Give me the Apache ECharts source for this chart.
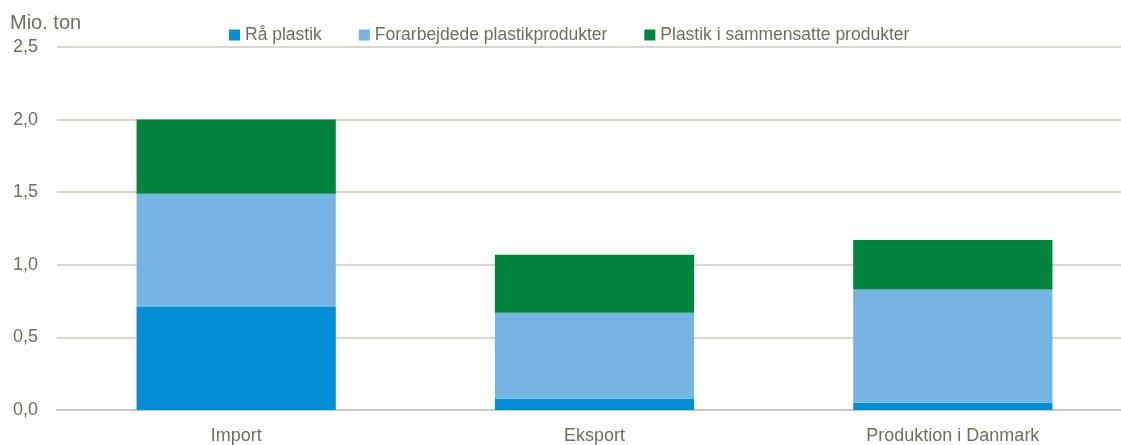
<!DOCTYPE html>
<html>
<head>
<meta charset="utf-8">
<script src="https://cdn.jsdelivr.net/npm/echarts@6/dist/echarts.min.js"></script>
<style>
  html, body { margin: 0; padding: 0; background: #fff; overflow: hidden; }
  #chart { width: 1132px; height: 445px; }
</style>
</head>
<body>
<div id="chart"></div>
<script>
// data
var categories = ['Import', 'Eksport', 'Produktion i Danmark'];
var raaPlastik = [0.71, 0.08, 0.05];
var forarbejdede = [0.78, 0.59, 0.78];
var sammensatte = [0.51, 0.40, 0.34];
var yTicks = [0, 0.5, 1.0, 1.5, 2.0, 2.5];

var textColor = '#6e6e60';
var fontFam = '"Liberation Sans Narrow", "Arial Narrow", "Liberation Sans", sans-serif';

// chart is a little wider than the window, so the plot runs off the right edge
var chart = echarts.init(document.getElementById('chart'));

var option = {
  animation: false,
  textStyle: { fontFamily: fontFam, color: textColor },
  title: {
    text: 'Mio. ton',
    left: 5,
    top: 8,
    textStyle: { fontFamily: fontFam, fontSize: 20, fontWeight: 'normal', color: textColor }
  },
  legend: {
    top: 21,
    left: 224,
    itemWidth: 11,
    itemHeight: 11,
    itemGap: 37,
    icon: 'rect',
    textStyle: { fontFamily: fontFam, fontSize: 17.5, color: textColor },
    data: ['Rå plastik', 'Forarbejdede plastikprodukter', 'Plastik i sammensatte produkter']
  },
  grid: { left: 57, right: 0, top: 47, bottom: 31, containLabel: false },
  xAxis: {
    type: 'category',
    data: categories,
    axisLine: { lineStyle: { color: '#c8c8bc', width: 2 } },
    axisTick: { show: false },
    axisLabel: { fontFamily: fontFam, fontSize: 18, color: textColor, margin: 17 }
  },
  yAxis: {
    type: 'value',
    min: 0,
    max: 2.5,
    interval: 0.5,
    axisLine: { show: false },
    axisTick: { show: false },
    splitLine: { lineStyle: { color: '#c8c8bc', width: 1.5 } },
    axisLabel: {
      fontFamily: fontFam, fontSize: 18, color: textColor, margin: 19,
      formatter: function (v) {
        return yTicks.indexOf(v) >= 0 ? v.toFixed(1).replace('.', ',') : '';
      }
    }
  },
  series: [
    {
      name: 'Rå plastik',
      type: 'bar',
      stack: 'total',
      barWidth: '55.6%',
      itemStyle: { color: '#008fd5' },
      data: raaPlastik
    },
    {
      name: 'Forarbejdede plastikprodukter',
      type: 'bar',
      stack: 'total',
      itemStyle: { color: '#76b4e3' },
      data: forarbejdede
    },
    {
      name: 'Plastik i sammensatte produkter',
      type: 'bar',
      stack: 'total',
      itemStyle: { color: '#00843c' },
      data: sammensatte
    }
  ]
};

chart.setOption(option);
</script>
</body>
</html>
